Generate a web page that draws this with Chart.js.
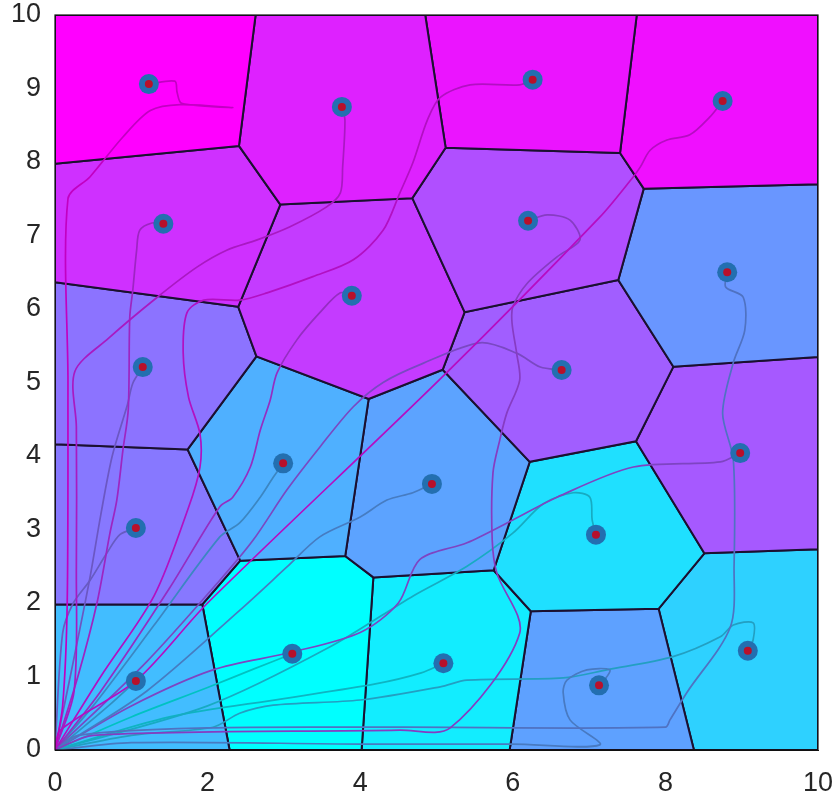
<!DOCTYPE html>
<html>
<head>
<meta charset="utf-8">
<script src="https://cdn.jsdelivr.net/npm/chart.js@4.4.1/dist/chart.umd.min.js"></script>
<style>
  html, body { margin: 0; padding: 0; background: #fff; }
  #wrap { width: 835px; height: 796px; }
</style>
</head>
<body>
<div id="wrap"><canvas id="myChart" width="835" height="796"></canvas></div>
<script>
// robot (generator) positions
const robotX = [1.23, 3.76, 6.26, 8.75, 1.42, 6.20, 8.81, 3.89, 1.15, 6.64,
                2.99, 4.94, 8.98, 1.06, 7.09, 1.06, 3.11, 5.09, 7.13, 9.08];
const robotY = [9.06, 8.75, 9.12, 8.83, 7.16, 7.20, 6.50, 6.18, 5.21, 5.17,
                3.90, 3.62, 4.04, 3.02, 2.93, 0.94, 1.31, 1.18, 0.88, 1.35];

// colormap value (cool map, 0 = cyan, 1 = magenta) for each robot / cell
const shade = [1.0, 0.87, 0.92, 0.94, 0.81, 0.69, 0.41, 0.77, 0.55, 0.63,
               0.31, 0.36, 0.65, 0.53, 0.12, 0.26, 0.0, 0.07, 0.37, 0.18];

// trajectories from the origin, one list of [x, y] per robot
const paths = [
  [[0,0],[0.1,0.6],[0.16,2],[0.17,5],[0.17,7.5],[0.46,7.8],[0.89,8.34],[1.25,8.7],[1.64,8.78],[2.33,8.74],[1.66,8.8],[1.6,8.95],[1.57,9.1],[1.23,9.06]],
  [[0,0],[0.25,0.8],[0.28,2.5],[0.28,4.4],[0.26,5.15],[0.7,5.6],[1.34,6.16],[1.86,6.57],[2.25,6.8],[2.65,6.94],[3.08,7.12],[3.56,7.39],[3.74,7.58],[3.77,7.93],[3.8,8.57],[3.76,8.75]],
  [[0,0],[0.6,1.0],[1.3,2.1],[1.75,3.3],[1.9,3.85],[1.9,4.3],[1.75,4.8],[1.68,5.4],[1.73,5.95],[1.95,6.12],[2.42,6.12],[2.78,6.22],[3.38,6.44],[3.91,6.67],[4.3,7.07],[4.52,7.58],[4.69,7.99],[4.88,8.57],[5.05,8.88],[5.44,9.05],[6.09,9.05],[6.26,9.12]],
  [[0,0],[0.07,0.27],[1.07,0.95],[2.0,2.0],[5.1,5.1],[7.14,7.25],[7.58,7.8],[7.67,7.93],[7.8,8.16],[8.02,8.3],[8.32,8.37],[8.58,8.61],[8.75,8.83]],
  [[0,0],[0.3,1.0],[0.55,2.0],[0.72,2.95],[0.81,3.4],[0.89,4.08],[0.96,4.63],[0.98,5.89],[1.02,6.26],[1.07,6.8],[1.11,7.07],[1.27,7.17],[1.42,7.16]],
  [[0,0],[0.5,0.2],[4.52,0.27],[5.18,0.3],[6.09,1.59],[5.79,2.41],[5.73,2.86],[5.74,3.77],[5.83,4.22],[5.92,4.58],[6.09,5.03],[6.05,5.4],[5.99,5.81],[6.0,6.03],[6.19,6.35],[6.58,6.71],[6.88,6.94],[6.75,7.21],[6.45,7.28],[6.2,7.2]],
  [[0,0],[0.3,0.2],[2.0,0.3],[4.52,0.31],[8.0,0.31],[8.06,0.41],[8.28,0.78],[8.85,1.67],[8.9,2.5],[8.89,3.95],[8.75,4.58],[8.89,5.27],[9.04,5.71],[9.02,6.16],[8.79,6.3],[8.81,6.5]],
  [[0,0],[0.6,0.8],[1.5,2.2],[2.16,3.31],[2.33,3.44],[2.56,3.85],[2.69,4.35],[2.82,4.76],[2.91,5.13],[3.17,5.58],[3.47,5.95],[3.74,6.22],[3.89,6.18]],
  [[0,0],[0.2,1.0],[0.45,2.3],[0.6,3.2],[0.75,4.0],[0.95,4.7],[1.02,4.99],[1.15,5.21]],
  [[0,0],[1.2,1.2],[2.16,2.31],[2.6,2.86],[3.04,3.54],[3.47,4.12],[3.91,4.67],[4.3,5.0],[4.8,5.25],[5.57,5.54],[6.05,5.4],[6.36,5.21],[6.64,5.17]],
  [[0,0],[0.5,0.6],[1.3,1.7],[2.16,2.9],[2.42,3.09],[2.69,3.44],[2.86,3.71],[2.99,3.9]],
  [[0,0],[1.2,0.8],[2.42,1.9],[3.04,2.49],[3.47,2.9],[4.0,3.17],[4.35,3.4],[4.69,3.5],[4.94,3.62]],
  [[0,0],[1.0,0.6],[2.07,1.09],[3.1,1.33],[4.0,1.6],[4.5,2.0],[4.78,2.59],[5.4,2.82],[6.0,3.13],[6.58,3.44],[7.58,3.85],[8.72,3.92],[8.98,4.04]],
  [[0,0],[0.1,1.59],[0.24,2.0],[0.46,2.31],[0.68,2.68],[0.85,2.93],[1.06,3.02]],
  [[0,0],[2.0,0.6],[3.6,1.4],[4.7,2.1],[5.4,2.5],[6.0,2.95],[6.4,3.35],[6.79,3.5],[7.01,3.44],[7.04,3.13],[7.09,2.93]],
  [[0,0],[0.3,0.25],[0.7,0.6],[1.06,0.94]],
  [[0,0],[1.0,0.45],[2.0,0.85],[2.6,1.1],[3.11,1.31]],
  [[0,0],[1.5,0.45],[3.0,0.7],[4.2,0.9],[4.8,1.05],[5.09,1.18]],
  [[0,0],[1.0,0.1],[4.0,0.08],[6.0,0.08],[7.14,0.07],[6.75,0.41],[6.66,0.78],[6.71,0.95],[6.97,1.09],[7.27,1.09],[7.2,0.95],[7.13,0.88]],
  [[0,0],[1.0,0.2],[2.07,0.31],[2.42,0.5],[2.86,0.61],[4.0,0.68],[5.05,0.86],[5.4,0.95],[6.66,0.98],[7.23,1.09],[8.1,1.27],[8.72,1.54],[8.89,1.7],[9.15,1.73],[9.15,1.5],[9.08,1.35]]
];

const xTicks = [0, 2, 4, 6, 8, 10];
const yTicks = [0, 1, 2, 3, 4, 5, 6, 7, 8, 9, 10];

function cool(t, k) {
  k = k || 1;
  const r = Math.round(255 * t * k), g = Math.round(255 * (1 - t) * k), b = Math.round(255 * k);
  return "rgb(" + r + "," + g + "," + b + ")";
}

// voronoi cell of robot i, clipped to the 10x10 box
function cellOf(i) {
  let poly = [[0,0],[10,0],[10,10],[0,10]];
  for (let j = 0; j < robotX.length; j++) {
    if (j == i) continue;
    const nx = robotX[j] - robotX[i], ny = robotY[j] - robotY[i];
    const mx = (robotX[j] + robotX[i]) / 2, my = (robotY[j] + robotY[i]) / 2;
    const side = p => (p[0] - mx) * nx + (p[1] - my) * ny;
    const out = [];
    for (let k = 0; k < poly.length; k++) {
      const a = poly[k], b = poly[(k + 1) % poly.length];
      const sa = side(a), sb = side(b);
      if (sa <= 0) out.push(a);
      if ((sa < 0 && sb > 0) || (sa > 0 && sb < 0)) {
        const t = sa / (sa - sb);
        out.push([a[0] + t * (b[0] - a[0]), a[1] + t * (b[1] - a[1])]);
      }
    }
    poly = out;
  }
  return poly;
}

const datasets = [];

for (let i = 0; i < robotX.length; i++) {
  const poly = cellOf(i);
  const pts = poly.map(p => ({ x: p[0], y: p[1] }));
  pts.push({ x: poly[0][0], y: poly[0][1] });
  datasets.push({
    data: pts,
    showLine: true,
    fill: "shape",
    backgroundColor: cool(shade[i]),
    borderColor: "#1b1030",
    borderWidth: 2,
    pointRadius: 0,
    tension: 0,
    order: 3,
  });
}

for (let i = 0; i < paths.length; i++) {
  datasets.push({
    data: paths[i].map(p => ({ x: p[0], y: p[1] })),
    showLine: true,
    fill: false,
    borderColor: cool(shade[i], 0.76),
    borderWidth: 1.7,
    pointRadius: 0,
    tension: 0.3,
    order: 2,
  });
}

// red centre dots first so they sit on top of the blue discs
datasets.push({
  data: robotX.map((x, i) => ({ x: x, y: robotY[i] })),
  pointRadius: 4,
  pointBackgroundColor: "#b8102a",
  pointBorderWidth: 0,
  order: 0,
});
datasets.push({
  data: robotX.map((x, i) => ({ x: x, y: robotY[i] })),
  pointRadius: 10,
  pointBackgroundColor: "#236fb0",
  pointBorderWidth: 0,
  order: 1,
});

const frame = {
  id: "frame",
  afterDatasetsDraw(chart) {
    const a = chart.chartArea, ctx = chart.ctx;
    ctx.save();
    ctx.strokeStyle = "#111";
    ctx.lineWidth = 1.2;
    ctx.strokeRect(a.left, a.top, a.right - a.left, a.bottom - a.top);
    ctx.restore();
  },
};

const tickFont = { family: "'Liberation Sans', Arial, sans-serif", size: 27 };

new Chart(document.getElementById("myChart"), {
  type: "scatter",
  data: { datasets: datasets },
  plugins: [frame],
  options: {
    responsive: false,
    animation: false,
    layout: { padding: { top: 15, right: 17, left: 0, bottom: 0 } },
    plugins: { legend: { display: false }, tooltip: { enabled: false } },
    scales: {
      x: {
        type: "linear",
        min: 0,
        max: 10,
        afterBuildTicks: s => { s.ticks = xTicks.map(v => ({ value: v })); },
        afterFit: s => { s.height = 46; s.paddingLeft = 0; s.paddingRight = 0; },
        grid: { display: false },
        border: { display: true, color: "#111" },
        ticks: { font: tickFont, color: "#262626", padding: 9, maxRotation: 0 },
      },
      y: {
        type: "linear",
        min: 0,
        max: 10,
        afterBuildTicks: s => { s.ticks = yTicks.map(v => ({ value: v })); },
        afterFit: s => { s.width = 55; s.paddingTop = 0; s.paddingBottom = 0; },
        grid: { display: false },
        border: { display: true, color: "#111" },
        ticks: { font: tickFont, color: "#262626", padding: 6 },
      },
    },
  },
});
</script>
</body>
</html>
